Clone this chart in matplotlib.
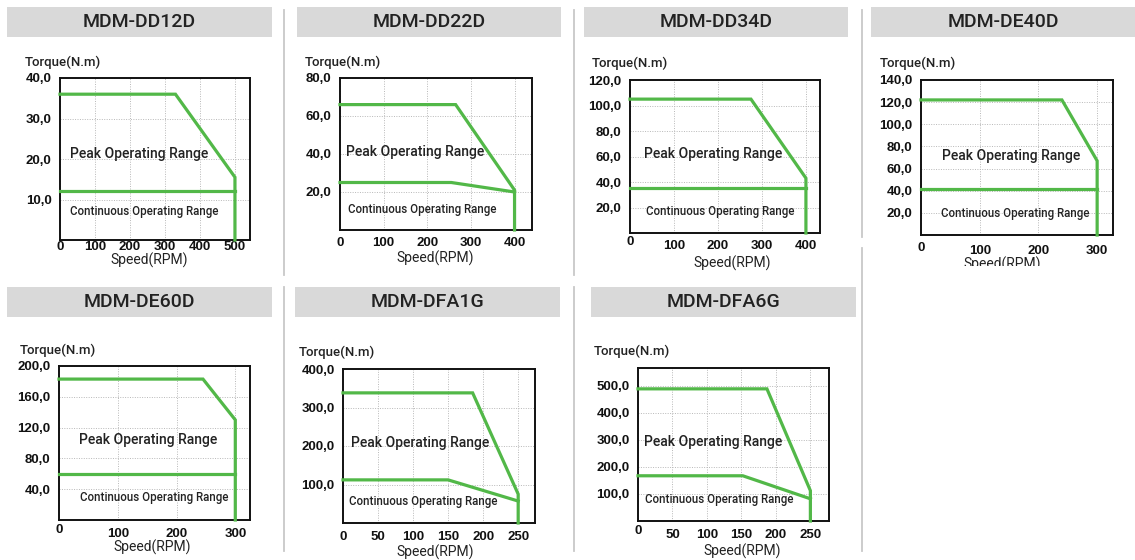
import matplotlib
matplotlib.use("Agg")
import matplotlib.pyplot as plt
from matplotlib.patches import Rectangle
from matplotlib.lines import Line2D
from matplotlib.transforms import ScaledTranslation

# ---------------- data ----------------
models = ["MDM-DD12D", "MDM-DD22D", "MDM-DD34D", "MDM-DE40D",
          "MDM-DE60D", "MDM-DFA1G", "MDM-DFA6G"]

peak_speed = [[0, 330, 500, 500], [0, 265, 400, 400], [0, 275, 400, 400],
              [0, 240, 300, 300], [0, 245, 300, 300], [0, 185, 250, 250],
              [0, 187, 250, 250]]
peak_torque = [[36, 36, 15.5, 0], [66, 66, 21, 0], [105, 105, 43, 0],
               [122, 122, 67, 0], [183, 183, 130, 0], [338, 338, 75, 0],
               [488, 488, 112, 0]]
cont_speed = [[0, 500], [0, 255, 400], [0, 400], [0, 300], [0, 300],
              [0, 150, 250], [0, 152, 250]]
cont_torque = [[12, 12], [25, 25, 20], [35, 35], [42, 42], [60, 60],
               [112, 112, 57], [167, 167, 82]]

x_ticks = [[0, 100, 200, 300, 400, 500], [0, 100, 200, 300, 400],
           [0, 100, 200, 300, 400], [0, 100, 200, 300], [0, 100, 200, 300],
           [0, 50, 100, 150, 200, 250], [0, 50, 100, 150, 200, 250]]
y_ticks = [[10, 20, 30, 40], [20, 40, 60, 80], [20, 40, 60, 80, 100, 120],
           [20, 40, 60, 80, 100, 120, 140], [40, 80, 120, 160, 200],
           [100, 200, 300, 400], [100, 200, 300, 400, 500]]
x_max = [543, 440, 432, 327, 325, 274, 277]
y_max = [40, 80, 120, 140, 200, 400, 565]

y_label = "Torque(N.m)"
x_label = "Speed(RPM)"
peak_label = "Peak Operating Range"
cont_label = "Continuous Operating Range"

# ---------------- layout (pixels) ----------------
W, H = 1135, 560
axes_px = [(60, 78, 250, 240), (340, 78, 532, 230), (630, 80, 820, 233),
           (921, 80, 1113, 235), (59, 366, 250, 520), (343, 369, 535, 523),
           (638, 368, 829, 521)]
header_px = [(7, 7, 272, 37), (297, 7, 561, 37), (584, 7, 848, 37),
             (871, 7, 1135, 37), (7, 287, 272, 317), (295, 287, 560, 317),
             (591, 287, 856, 317)]
torque_px = [(25, 62), (305, 62), (592, 63), (880, 63), (20, 350),
             (299, 352), (594, 351)]
peak_px = [(70, 154), (346, 152), (644, 154), (942, 156), (79, 440),
           (351, 443), (644, 442)]
cont_px = [(70, 211), (348, 209), (646, 212), (941, 213), (80, 498),
           (349, 501), (645, 500)]
speed_px = [(149, 260), (435, 258), (732, 263), (1002, 264), (152, 547),
            (435, 552), (742, 551)]
zero_raise = [0, 0, 3, 2, 3, 0, 3]
xtick_pad = [1, 5, 5, 7, 6, 6, 6]

GREEN = "#52b848"
HEAD = "#d9d9d9"
TXT = "#222222"

fig = plt.figure(figsize=(W / 100, H / 100), dpi=100)
fig.patch.set_facecolor("white")


def fx(x):
    return x / W


def fy(y):
    return 1 - y / H


# separators
for x, y0, y1 in [(283.5, 10, 275), (283.5, 287, 551), (573.5, 10, 275),
                  (573.5, 287, 551), (861.5, 10, 237), (861.5, 248, 551)]:
    fig.add_artist(Line2D([fx(x), fx(x)], [fy(y0), fy(y1)], color="#c8c8c8",
                          lw=1.3, transform=fig.transFigure))

for i in range(7):
    l, t, r, b = axes_px[i]
    ax = fig.add_axes([fx(l), fy(b), (r - l) / W, (b - t) / H])
    ax.set_xlim(0, x_max[i])
    ax.set_ylim(0, y_max[i])
    ax.set_xticks(x_ticks[i])
    ax.set_yticks(y_ticks[i])
    ax.set_xticklabels([str(v) for v in x_ticks[i]])
    ax.set_yticklabels([f"{v:.1f}".replace(".", ",") for v in y_ticks[i]])
    ax.tick_params(length=0, labelsize=9.5, colors="#111111")
    ax.tick_params(axis="y", pad=6)
    ax.tick_params(axis="x", pad=xtick_pad[i])
    for lab in ax.get_xticklabels() + ax.get_yticklabels():
        lab.set_fontfamily("Liberation Sans")
        lab.set_fontweight("bold")
    if zero_raise[i]:
        lab0 = ax.get_xticklabels()[0]
        lab0.set_transform(lab0.get_transform() +
                           ScaledTranslation(0, zero_raise[i] / 72, fig.dpi_scale_trans))
    ax.grid(True, color="#b8b8b8", linestyle=(0, (1, 1.5)), linewidth=0.7)
    ax.set_axisbelow(True)
    for s in ax.spines.values():
        s.set_linewidth(1.4)
        s.set_color("#111111")
    ax.plot(cont_speed[i], cont_torque[i], color=GREEN, lw=2.3,
            solid_joinstyle="miter", clip_on=False, zorder=3)
    ax.plot(peak_speed[i], peak_torque[i], color=GREEN, lw=2.3,
            solid_joinstyle="miter", clip_on=False, zorder=3)

    # header
    hl, ht, hr, hb = header_px[i]
    fig.add_artist(Rectangle((fx(hl), fy(hb)), (hr - hl) / W, (hb - ht) / H,
                             transform=fig.transFigure, facecolor=HEAD,
                             edgecolor="none"))
    fig.text(fx((hl + hr) / 2), fy((ht + hb) / 2), models[i], ha="center",
             va="center", fontsize=14, family="Roboto", fontweight="medium",
             color=TXT)
    fig.text(fx(torque_px[i][0]), fy(torque_px[i][1]), y_label, ha="left",
             va="center", fontsize=9.5, family="Roboto", fontweight="medium",
             color=TXT)
    fig.text(fx(peak_px[i][0]), fy(peak_px[i][1]), peak_label, ha="left",
             va="center", fontsize=10, family="Roboto", fontweight="medium",
             color=TXT, zorder=5)
    fig.text(fx(cont_px[i][0]), fy(cont_px[i][1]), cont_label, ha="left",
             va="center", fontsize=8.3, family="Roboto", fontweight="medium",
             color=TXT, zorder=5)
    fig.text(fx(speed_px[i][0]), fy(speed_px[i][1]), x_label, ha="center",
             va="center", fontsize=10, family="Roboto", color=TXT)

# the 4th panel's axis title is cut off in the original
fig.add_artist(Rectangle((fx(864), fy(280)), (W - 864) / W, 14 / H,
                         transform=fig.transFigure, facecolor="white",
                         edgecolor="none", zorder=10))

fig.savefig("out.png", dpi=100, facecolor="white")
